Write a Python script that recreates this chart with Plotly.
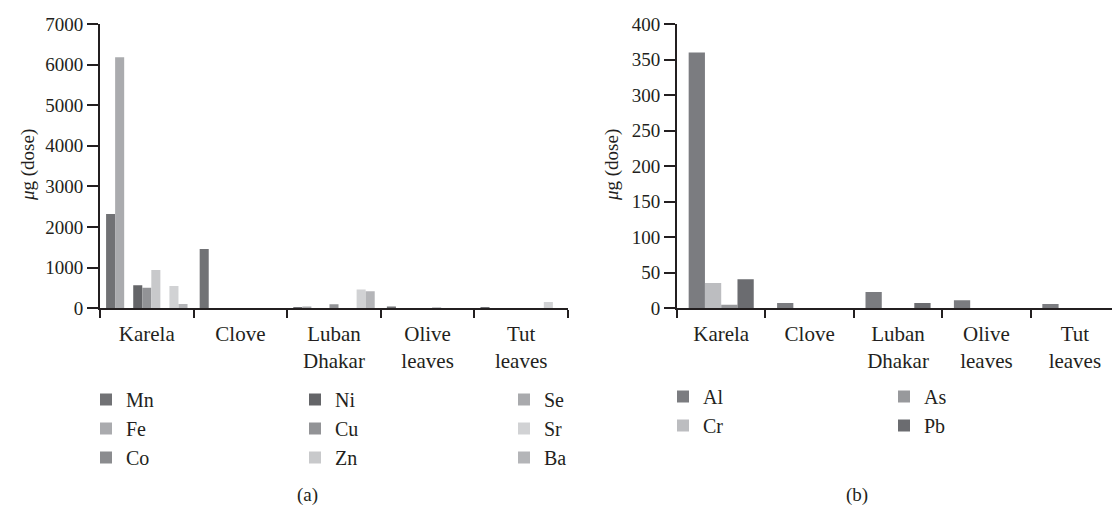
import plotly.graph_objects as go

categories = ["Karela", "Clove", "Luban<br>Dhakar", "Olive<br>leaves", "Tut<br>leaves"]

# Panel (a) values, µg (dose)
series_a = ["Mn", "Fe", "Co", "Ni", "Cu", "Zn", "Se", "Sr", "Ba"]
Mn = [2320, 1460, 15, 45, 20]
Fe = [6180, 0, 45, 0, 0]
Co = [0, 0, 0, 0, 0]
Ni = [570, 0, 0, 0, 0]
Cu = [505, 0, 100, 0, 0]
Zn = [940, 0, 0, 20, 0]
Se = [0, 0, 0, 0, 0]
Sr = [550, 0, 465, 0, 155]
Ba = [105, 0, 420, 0, 0]
values_a = [Mn, Fe, Co, Ni, Cu, Zn, Se, Sr, Ba]
colors_a = ["#717275", "#aaabae", "#8b8c8f", "#646568", "#929396",
            "#c8c9cb", "#a9aaad", "#d1d2d4", "#b4b5b8"]

# Panel (b) values, µg (dose)
series_b = ["Al", "Cr", "As", "Pb"]
Al = [360, 7.5, 23, 11.5, 6]
Cr = [35.5, 0, 0, 0, 0]
As = [5, 0, 0, 0, 0]
Pb = [41, 0, 7.5, 0, 0]
values_b = [Al, Cr, As, Pb]
colors_b = ["#7b7c80", "#bcbdc0", "#98999c", "#6b6c70"]

yticks_a = [0, 1000, 2000, 3000, 4000, 5000, 6000, 7000]
yticks_b = [0, 50, 100, 150, 200, 250, 300, 350, 400]

W, H = 1112, 505
FONT = "'Liberation Serif', 'DejaVu Serif', serif"
TXT = "#231f20"

def px(x):
    return x / W

def py(y):
    return 1 - y / H

fig = go.Figure()

legend_of_a = ["legend", "legend", "legend", "legend2", "legend2", "legend2",
               "legend3", "legend3", "legend3"]
for name, vals, col, lg in zip(series_a, values_a, colors_a, legend_of_a):
    fig.add_trace(go.Bar(x=categories, y=vals, name=name, marker_color=col,
                         marker_line_width=0, xaxis="x", yaxis="y", legend=lg))

bw = 0.184
legend_of_b = ["legend4", "legend4", "legend5", "legend5"]
for i, (name, vals, col, lg) in enumerate(zip(series_b, values_b, colors_b, legend_of_b)):
    fig.add_trace(go.Bar(x=categories, y=vals, name=name, marker_color=col,
                         marker_line_width=0, xaxis="x2", yaxis="y2", legend=lg,
                         width=bw, offset=-2 * bw + i * bw))

ydom = [py(308.3), py(24)]
common_x = dict(type="category", tickson="boundaries", ticks="outside", ticklen=8,
                tickwidth=2, tickcolor=TXT, showline=True, linecolor=TXT, linewidth=2,
                showgrid=False, zeroline=False, automargin=False, ticklabelstandoff=5,
                tickfont=dict(family=FONT, size=21, color=TXT), fixedrange=True)
common_y = dict(ticks="outside", ticklen=11, tickwidth=2, tickcolor=TXT, showline=True,
                linecolor=TXT, linewidth=2, showgrid=False, zeroline=False,
                automargin=False,
                tickfont=dict(family=FONT, size=19, color=TXT), domain=ydom)

legend_common = dict(orientation="v", bgcolor="rgba(0,0,0,0)", borderwidth=0,
                     font=dict(family=FONT, size=20, color=TXT),
                     xanchor="left", yanchor="top", itemclick=False,
                     itemdoubleclick=False, traceorder="normal")
ltop_a = py(380)
ltop_b = py(377)

fig.update_layout(
    template="none",
    font=dict(family=FONT, color=TXT),
    width=W, height=H,
    margin=dict(l=0, r=0, t=0, b=0, autoexpand=False),
    paper_bgcolor="white", plot_bgcolor="white",
    barmode="group", bargap=0.13, bargroupgap=0,
    showlegend=True,
    xaxis=dict(common_x, domain=[px(100), px(568)], anchor="y", range=[-0.5, 4.5]),
    yaxis=dict(common_y, anchor="x", range=[0, 7000], tickvals=yticks_a),
    xaxis2=dict(common_x, domain=[px(677), 1.0], anchor="y2", range=[-0.5, 4.42]),
    yaxis2=dict(common_y, anchor="x2", range=[0, 400], tickvals=yticks_b),
    legend=dict(legend_common, x=px(86), y=ltop_a),
    legend2=dict(legend_common, x=px(295), y=ltop_a),
    legend3=dict(legend_common, x=px(504), y=ltop_a),
    legend4=dict(legend_common, x=px(663), y=ltop_b),
    legend5=dict(legend_common, x=px(884), y=ltop_b),
    annotations=[
        dict(text="<i>μ</i>g (dose)", x=px(28), y=py(165), xref="paper", yref="paper",
             xanchor="center", yanchor="middle",
             textangle=-90, showarrow=False, font=dict(family=FONT, size=19, color=TXT)),
        dict(text="<i>μ</i>g (dose)", x=px(612), y=py(165), xref="paper", yref="paper",
             xanchor="center", yanchor="middle",
             textangle=-90, showarrow=False, font=dict(family=FONT, size=19, color=TXT)),
        dict(text="(a)", x=px(307), y=py(495), xref="paper", yref="paper",
             xanchor="center", yanchor="middle",
             showarrow=False, font=dict(family=FONT, size=19, color=TXT)),
        dict(text="(b)", x=px(857), y=py(495), xref="paper", yref="paper",
             xanchor="center", yanchor="middle",
             showarrow=False, font=dict(family=FONT, size=19, color=TXT)),
    ],
)

fig.write_html("out.html", config={"displayModeBar": False},
               post_script="document.body.style.margin='0';")
